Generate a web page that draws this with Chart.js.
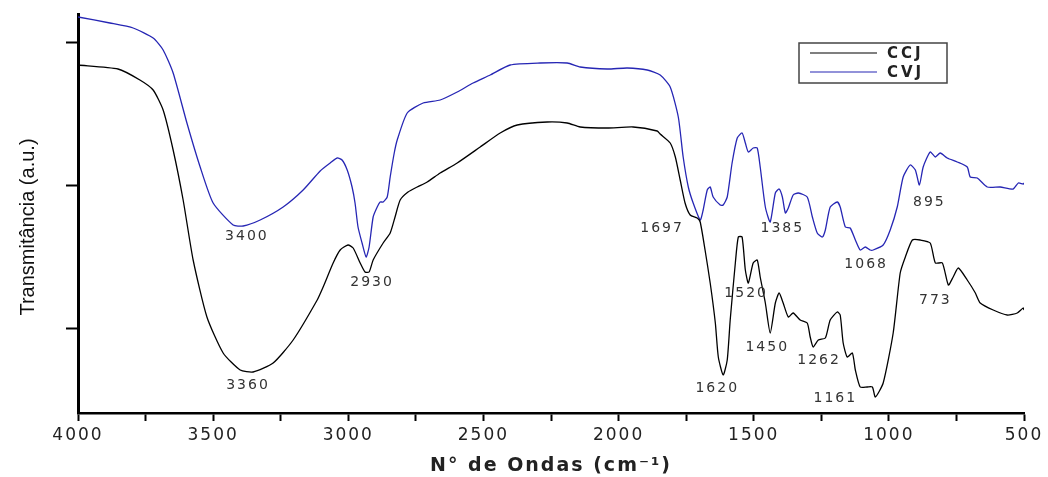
<!DOCTYPE html>
<html>
<head>
<meta charset="utf-8">
<script src="https://cdn.jsdelivr.net/npm/chart.js@4.4.1/dist/chart.umd.min.js"></script>
<style>
  html, body { margin: 0; padding: 0; background: #fff; }
</style>
</head>
<body>
<canvas id="ftir" width="1048" height="477"></canvas>
<script>
// espectros (número de onda em cm-1, transmitância em u.a.)
const ccjWave = [4000, 3852, 3771, 3722, 3685, 3648, 3611, 3574, 3523, 3463, 3400, 3352, 3278, 3204, 3115, 3093, 3056, 3030, 3001, 2982, 2956, 2938, 2923, 2908, 2871, 2845, 2827, 2808, 2779, 2745, 2708, 2660, 2597, 2512, 2438, 2375, 2264, 2190, 2142, 2042, 1946, 1857, 1846, 1809, 1790, 1772, 1754, 1735, 1709, 1698, 1680, 1661, 1642, 1631, 1613, 1598, 1587, 1568, 1557, 1543, 1531, 1520, 1502, 1487, 1476, 1457, 1439, 1420, 1406, 1391, 1372, 1354, 1328, 1302, 1291, 1280, 1261, 1235, 1217, 1191, 1180, 1169, 1154, 1135, 1124, 1106, 1080, 1061, 1050, 1021, 984, 958, 939, 913, 884, 847, 828, 802, 780, 762, 743, 710, 680, 662, 614, 562, 525, 503, 500];
const ccjT = [348, 344, 333, 323, 303, 263, 213, 153, 96, 60, 43, 41, 50, 73, 113, 126, 150, 163, 168, 165, 150, 141, 141, 153, 170, 180, 196, 213, 221, 226, 231, 240, 250, 266, 280, 288, 291, 290, 286, 285, 286, 282, 279, 270, 256, 233, 210, 198, 195, 191, 163, 130, 90, 56, 38, 53, 93, 150, 176, 176, 143, 130, 150, 153, 136, 110, 80, 110, 120, 110, 96, 100, 93, 90, 76, 66, 73, 75, 93, 101, 98, 70, 56, 60, 43, 26, 26, 26, 16, 30, 80, 140, 156, 173, 173, 170, 150, 150, 128, 136, 145, 133, 120, 110, 103, 98, 100, 105, 103];

const cvjWave = [4000, 3882, 3796, 3722, 3685, 3648, 3597, 3548, 3500, 3426, 3389, 3326, 3241, 3167, 3104, 3067, 3041, 3023, 3004, 2986, 2975, 2964, 2949, 2934, 2923, 2908, 2893, 2882, 2871, 2856, 2845, 2830, 2819, 2782, 2723, 2660, 2597, 2538, 2475, 2401, 2290, 2190, 2142, 2042, 1968, 1894, 1846, 1809, 1779, 1761, 1742, 1724, 1698, 1687, 1672, 1661, 1650, 1624, 1613, 1598, 1580, 1561, 1543, 1531, 1520, 1502, 1487, 1476, 1457, 1439, 1420, 1406, 1394, 1383, 1372, 1354, 1335, 1302, 1283, 1265, 1246, 1235, 1217, 1191, 1180, 1161, 1143, 1124, 1106, 1087, 1069, 1058, 1021, 995, 969, 947, 921, 902, 887, 873, 847, 828, 810, 784, 747, 710, 699, 673, 636, 588, 540, 521, 503, 500];
const cvjT = [396, 390, 385, 375, 363, 340, 290, 246, 210, 188, 187, 193, 206, 223, 242, 250, 255, 253, 243, 226, 210, 186, 170, 156, 166, 196, 206, 211, 211, 216, 236, 260, 273, 300, 310, 313, 321, 330, 338, 348, 350, 350, 346, 344, 345, 343, 338, 326, 296, 256, 226, 210, 193, 203, 223, 226, 216, 208, 208, 216, 250, 275, 280, 270, 261, 265, 265, 246, 206, 191, 220, 224, 216, 200, 205, 218, 220, 216, 196, 180, 176, 183, 206, 211, 206, 186, 185, 173, 163, 166, 163, 163, 168, 183, 206, 236, 248, 243, 228, 246, 261, 256, 260, 255, 251, 246, 236, 235, 226, 226, 224, 230, 229, 230];

const xTickValues = [4000, 3750, 3500, 3250, 3000, 2750, 2500, 2250, 2000, 1750, 1500, 1250, 1000, 750, 500];
const yTickValues = [85, 228, 371];

// picos marcados
const peakText = ["3400", "3360", "2930", "1697", "1620", "1520", "1450", "1385", "1262", "1161", "1068", "895", "773"];
const peakWave = [3375, 3371, 2912, 1839, 1635, 1528, 1450, 1394, 1258, 1198, 1084, 850, 828];
const peakT = [177, 28, 131, 185, 25, 120, 66, 185, 53, 15, 149, 211, 113];

const toPoints = (w, t) => w.map((v, i) => ({ x: v, y: t[i] }));

const extras = {
  id: "extras",
  beforeDraw(chart) {
    chart.ctx.letterSpacing = "2px";
  },
  afterDraw(chart) {
    const { ctx, chartArea, scales: { x, y } } = chart;
    ctx.save();
    // rótulos dos picos
    ctx.letterSpacing = "2px";
    ctx.font = '14px "DejaVu Sans"';
    ctx.fillStyle = "#333";
    ctx.textAlign = "center";
    ctx.textBaseline = "middle";
    peakText.forEach((t, i) => {
      ctx.fillText(t, x.getPixelForValue(peakWave[i]), y.getPixelForValue(peakT[i]));
    });

    // legenda
    const bx = chartArea.left + 721, by = chartArea.top + 29;
    ctx.strokeStyle = "#444";
    ctx.lineWidth = 1.5;
    ctx.strokeRect(bx, by, 148, 40);
    ctx.font = 'bold 15px "DejaVu Sans"';
    ctx.letterSpacing = "3px";
    ctx.textAlign = "left";
    chart.data.datasets.forEach((ds, i) => {
      const ly = by + 10 + i * 19;
      ctx.strokeStyle = ds.borderColor;
      ctx.lineWidth = 1.2;
      ctx.beginPath();
      ctx.moveTo(bx + 11, ly);
      ctx.lineTo(bx + 78, ly);
      ctx.stroke();
      ctx.fillStyle = "#222";
      ctx.fillText(ds.label, bx + 88, ly + 1);
    });

    // título do eixo y
    ctx.letterSpacing = "0px";
    ctx.font = '20px "Liberation Sans Narrow", "Liberation Sans"';
    ctx.fillStyle = "#111";
    ctx.textAlign = "center";
    ctx.translate(28, 227);
    ctx.rotate(-Math.PI / 2);
    ctx.fillText("Transmitância (a.u.)", 0, 0);
    ctx.restore();
  }
};

new Chart(document.getElementById("ftir"), {
  type: "line",
  data: {
    datasets: [
      {
        label: "CCJ",
        data: toPoints(ccjWave, ccjT),
        borderColor: "#000000",
        borderWidth: 1.3,
        pointRadius: 0,
        tension: 0.2,
      },
      {
        label: "CVJ",
        data: toPoints(cvjWave, cvjT),
        borderColor: "#2626b4",
        borderWidth: 1.3,
        pointRadius: 0,
        tension: 0.2,
      },
    ],
  },
  options: {
    responsive: false,
    animation: false,
    layout: { padding: { top: 14, right: 24, left: 0, bottom: 0 } },
    plugins: { legend: { display: false }, tooltip: { enabled: false } },
    scales: {
      x: {
        type: "linear",
        reverse: true,
        min: 500,
        max: 4000,
        afterBuildTicks: (s) => {
          s.ticks = xTickValues.map((v) => ({ value: v }));
        },
        afterFit: (s) => {
          s.height = 64;
          s.paddingLeft = 0;
          s.paddingRight = 0;
        },
        ticks: {
          autoSkip: false,
          maxRotation: 0,
          padding: 4,
          color: "#222",
          font: { family: "DejaVu Sans", size: 17 },
          callback: (v) => (v % 500 === 0 ? String(v) : ""),
        },
        grid: { drawOnChartArea: false, tickLength: 8, tickWidth: 2, tickColor: "#000" },
        border: { color: "#000", width: 2.5 },
        title: {
          display: true,
          text: "N° de Ondas (cm⁻¹)",
          color: "#222",
          font: { family: "DejaVu Sans", size: 19, weight: "bold" },
          padding: { top: 4, bottom: 0 },
        },
      },
      y: {
        min: 0,
        max: 399,
        afterBuildTicks: (s) => {
          s.ticks = yTickValues.map((v) => ({ value: v }));
        },
        afterFit: (s) => {
          s.width = 78;
        },
        ticks: { display: false },
        grid: { drawOnChartArea: false, tickLength: 12, tickWidth: 2, tickColor: "#000" },
        border: { color: "#000", width: 3 },
      },
    },
  },
  plugins: [extras],
});
</script>
</body>
</html>
